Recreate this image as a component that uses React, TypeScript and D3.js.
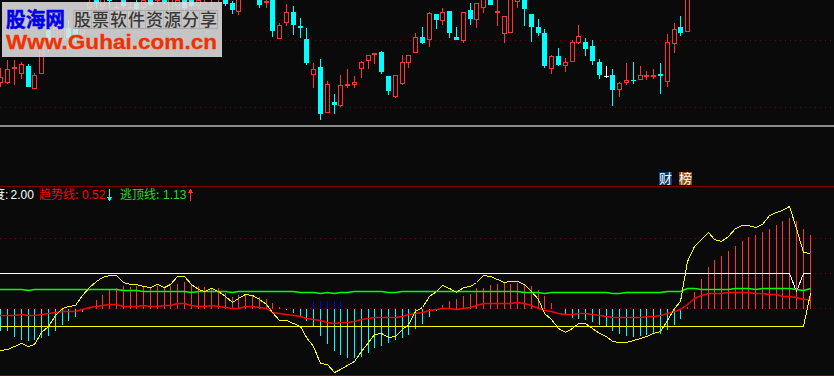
import React from "react";
import * as d3 from "d3";

const W = 834;
const H = 376;
const BG = "#0a0a0a";
const RED = "#ff3232";
const CYAN = "#00ffff";

// Candles (index units on a relative price scale)
const open = [117,117,131,126,134,111,126,170,158,160,172,172,166,192,204,194,206,182,204,180,197,192,204,199,205,188,194,200,204,194,200,201,202,202,197,188,220,205,203,197,202,161,177,188,174,161,125,133,87,98,94,114,115,131,139,145,148,124,103,116,137,147,163,160,186,179,189,163,159,190,180,192,205,187,166,167,198,205,186,173,167,131,144,134,138,157,158,154,138,124,125,110,117,120,120,123,124.5,126,118,156,173,168];
const close = [123,131,133,136,113,125,155,160,172,172,162,166,174,198,197,203,199,193,194,193,191,200,195,203,198,204,200,192,194,200,206,205,208,196,190,203,205,212,195,199,169,175,188,175,172,137,131,86,116,95,115,116,118,138,145,147,128,109,125,138,145,163,157,187,180,188,167,160,188,181,197,202,195,189,184,210,205,191,173,167,134,144,135,138,158,164,151,139,125,124,110,117,120,119,125,125,125,124,158,171,167,205];
const high = [132,140,140,138,136,127,160,180,176,178,180,176,178,202,206,206,208,198,206,198,202,203,206,205,206,206,204,203,205,202,208,206,209,204,199,205,222,215,205,202,204,177,196,194,182,172,137,141,119,106,125,131,124,139,145,147,149,124,125,145,145,167,173,188,186,192,189,173,188,197,197,204,207,202,184,212,207,207,186,181,171,145,152,142,160,175,162,160,141,134,131,118,137,138,134,129,131,137,166,177,184,207];
const low = [113,116,115,121,113,111,126,148,156,158,152,158,160,186,192,188,192,180,192,176,188,188,194,196,196,186,190,188,193,191,197,193,198,194,186,185,203,203,192,192,163,161,174,165,162,135,112,80,87,86,93,112,112,122,131,136,126,105,102,115,132,147,156,153,171,175,162,160,157,175,172,187,195,174,157,167,192,174,158,164,132,126,134,128,138,156,144,135,121,122,94,103,115,116,120,120,121,106,113,147,164,168];

// Lower panel series (oscillator, in panel units)
const histogram = [-22.7,-22,-28,-31,-32.7,-31,-29,-27,-22.7,-16.7,-12.7,-8.7,-3.7,1.3,8.3,13.3,18.3,21,22.3,21.3,22.3,22.3,21.7,23,21.3,22.3,24.3,26.3,25,23,21.7,21,20.3,16,11.7,13.3,14.3,13.3,11.7,9.3,5.7,1.3,-1.3,-4.7,-8,-12.3,-17.3,-27.3,-35.3,-42.3,-46.3,-49.3,-49.7,-48,-44.3,-39.3,-37,-34.3,-31.7,-29.3,-26.3,-20.7,-15.3,-8.3,-2.7,3.7,7.7,10,12.7,14.7,20.7,21,23.7,24.7,25.3,24.7,25.3,24,22.7,18.7,12.7,5.7,0,-5.7,-9.7,-10.7,-11.7,-13.7,-16,-18.7,-22.7,-25.7,-27.7,-28.7,-27.7,-26.7,-25.7,-25.3,-21.7,-16.7,-10.7,1.7,16.3,29.3,41.3,48.3,52.3,57.3,62.3,67.3,71.3,73.3,76.3,79.3,83.3,87.3,90.3,87.3,79.3,73.3];
const trendLine = [-7,-7,-7,-5.7,-7,-7,-6,-5,-3.7,-3,-2.7,-2.7,-1,1.3,2.3,3.3,4,4,2.3,1.7,1.7,2.7,1.7,2.3,2.7,3,4.7,4.7,3,1.7,1.7,2.7,2.3,1.3,-0.3,0.3,1.7,1.7,1.3,0,-4,-5,-6,-6.7,-8,-9.7,-11,-12.3,-13.7,-14.7,-13.7,-13.7,-12.7,-11.3,-10,-8.7,-8.7,-8.7,-8.7,-7.7,-6.3,-4.7,-3.7,-2,-1.3,0,0,-0.7,0,1.3,2.7,5.3,5.3,5.3,5.3,5.3,6.3,5.3,2.7,0,-2,-3,-5,-6,-6,-5,-5,-6,-7,-8,-9,-9,-9,-9,-9,-8,-8,-7,-5,-3,-1,4,10,13,15,15,15,16,16,16,16,15,15,14,14,12,12,11,9,9];
const escapeLine = [19,19,19,19,18,19,19,19,19,19,19,19,19,19,19,19,19,19,18,18,18,17,17,17,17,17,17,17,16,17,17,17,17,17,16,17,17,17,17,17,17,17,17,17,16,16,16,15,16,15,16,16,17,17,17,17,17,16,16,17,17,17,17,17,17,17,17,17,17,17,17,17,17,17,17,17,17,16,16,16,15,16,16,16,16,16,16,16,16,16,15,15,16,16,16,16,16,16,17,17,17,20,20,19,19,19,19,19,20,20,20,19,20,20,20,20,20,19,18,20];
const momentum = [-41.7,-40.7,-37.7,-35,-37.7,-35.7,-24.3,-18.3,-7.3,0.3,2.3,3.3,13.3,21,27.3,31,33,33,26.3,24.3,24.3,22.3,21.3,24,21,24,31.7,32,23.7,19,17.3,20,16.7,11.7,6.3,10.3,13.7,12.7,8.7,4.3,-4.3,-12,-11.7,-15.3,-17.7,-29.3,-38,-55.3,-56.3,-63.7,-60.7,-56.7,-53,-43,-33.7,-26,-25.3,-29.3,-28.3,-20.7,-16.3,-3,1,12,17,23.3,20.3,16,21.3,22.3,26.3,33.3,32.3,28.7,26,27,27.3,24.3,17,9.3,-4.7,-10.7,-20,-24,-20,-15,-15.3,-20,-25,-28,-33.3,-34,-34,-31.7,-30,-27.7,-25,-22.7,-11.7,0,7.3,46.7,61.7,69.3,75.7,69.3,66.7,71.7,80,83,83,81,84,93,96,98,102,80,56.3,54.7];
const blueIdx = [46, 47, 48, 49, 50];
const blueValue = 7.7;
const upperBand = histogram.map((_, i) => (i === 117 ? 17.3 : 35));
const lowerBand = histogram.map((_, i) => (i === 119 ? 15 : -18));

const priceGrid = [159.5, 92.5];
const oscGrid = [0, 35, 70];

const logoTitle = "股海网";
const logoCells = ["股", "票", "软", "件", "资", "源", "分", "享"];
const logoUrl = "Www.Guhai.com.cn";

const CJK = '"Noto Sans CJK SC", sans-serif';
const LATIN = '"Liberation Sans", Arial, sans-serif';

export default function App() {
  const xRaw = d3.scaleLinear().domain([0, 1]).range([0.9, 7.7]);
  const col = (i: number) => Math.floor(xRaw(i));
  const cx = (i: number) => col(i) + 0.5;
  const py = d3.scaleLinear().domain([0, 200]).range([200, 0]);
  const oy = d3.scaleLinear().domain([-18, 70]).range([326.5, 238.5]);
  const snapY = (d: number) => Math.floor(oy(d)) + 0.5;
  const line = (vals: number[]) =>
    d3.line<number>().x((_, i) => (i === 0 ? 0 : cx(i))).y((d) => snapY(d))(vals) as string;

  const cells = d3.range(logoCells.length);
  const cellX = d3.scaleLinear().domain([0, 8]).range([73, 217]);

  return (
    <svg
      width={W}
      height={H}
      viewBox={`0 0 ${W} ${H}`}
      style={{ position: "absolute", left: 0, top: 0, display: "block", background: BG }}
    >
      <rect x={0} y={0} width={W} height={H} fill={BG} />

      {/* upper grid */}
      {priceGrid.map((p) => (
        <line key={p} x1={0} x2={W} y1={py(p)} y2={py(p)} stroke="#7a0000" strokeDasharray="1 4" shapeRendering="crispEdges" />
      ))}

      {/* candles */}
      <g shapeRendering="crispEdges">
        {open.map((o, i) => {
          const c = close[i];
          const top = Math.round(py(Math.max(o, c)));
          const bot = Math.round(py(Math.min(o, c)));
          const hi = Math.round(py(high[i]));
          const lo = Math.round(py(low[i]));
          const x = col(i);
          if (o === c) {
            return (
              <g key={i} stroke="#ffffff">
                <line x1={x + 0.5} x2={x + 0.5} y1={hi} y2={lo} />
                <line x1={x - 2} x2={x + 3} y1={top + 0.5} y2={top + 0.5} />
              </g>
            );
          }
          if (c > o) {
            return (
              <g key={i} stroke={RED} fill="none">
                <line x1={x + 0.5} x2={x + 0.5} y1={hi} y2={top} />
                <line x1={x + 0.5} x2={x + 0.5} y1={bot} y2={lo} />
                <rect x={x - 1.5} y={top + 0.5} width={4} height={Math.max(bot - top - 1, 1)} fill={BG} />
              </g>
            );
          }
          return (
            <g key={i}>
              <line x1={x + 0.5} x2={x + 0.5} y1={hi} y2={lo} stroke={CYAN} />
              <rect x={x - 2} y={top} width={5} height={Math.max(bot - top, 1)} fill={CYAN} />
            </g>
          );
        })}
      </g>

      {/* watermark */}
      <rect x={2} y={2} width={220} height={55} fill="#dfdfdf" fillOpacity={0.88} />
      <text x={6} y={26.5} fontFamily={CJK} fontWeight={700} fontSize={20} fill="#0000e6" stroke="#0000e6" strokeWidth={0.5} textLength={59} lengthAdjust="spacingAndGlyphs">
        {logoTitle}
      </text>
      <g shapeRendering="crispEdges">
        <rect x={73.5} y={10.5} width={144} height={18} fill="none" stroke="#a8a8a8" />
        {cells.map((i) => (
          <line key={i} x1={cellX(i) + 0.5} x2={cellX(i) + 0.5} y1={10} y2={28} stroke="#b4b4b4" />
        ))}
      </g>
      {cells.map((i) => (
        <text key={i} x={cellX(i) + 9.5} y={25.5} textAnchor="middle" fontFamily={CJK} fontSize={17} fontWeight={500} fill="#383838">
          {logoCells[i]}
        </text>
      ))}
      <text x={6} y={49} fontFamily={LATIN} fontWeight={700} fontSize={21} fill="#ee3300" stroke="#ee3300" strokeWidth={0.3} textLength={211} lengthAdjust="spacingAndGlyphs">
        {logoUrl}
      </text>

      {/* panel separators */}
      <rect x={0} y={125} width={W} height={2} fill="#8c8c8c" />
      <rect x={0} y={186} width={W} height={1} fill="#800000" />
      <rect x={0} y={375} width={W} height={1} fill="#800000" />

      {/* badges */}
      <rect x={659} y={172} width={13} height={13} fill="#0a3a6a" />
      <text x={665.5} y={183} textAnchor="middle" fontFamily={CJK} fontSize={13} fill="#ffffff">财</text>
      <rect x={679} y={172} width={13} height={13} fill="#8b4a0f" />
      <text x={685.5} y={183} textAnchor="middle" fontFamily={CJK} fontSize={13} fill="#ffffff">榜</text>

      {/* legend */}
      <g fontSize={12}>
        <text x={-7} y={199} fontFamily={CJK} fill="#ffffff">度</text>
        <text x={5} y={199} fontFamily={LATIN} fill="#ffffff">:</text>
        <text x={10.5} y={199} fontFamily={LATIN} fill="#ffffff">2.00</text>
        <text x={39} y={199} fontFamily={CJK} fill="#ff0000">趋势线:</text>
        <text x={82} y={199} fontFamily={LATIN} fill="#ff0000">0.52</text>
        <text x={120} y={199} fontFamily={CJK} fill="#22dd22">逃顶线:</text>
        <text x={163} y={199} fontFamily={LATIN} fill="#22dd22">1.13</text>
      </g>
      <g shapeRendering="crispEdges">
        <line x1={109.5} x2={109.5} y1={189} y2={199} stroke={CYAN} />
        <path d="M107 197 H112 L109.5 201.5 Z" fill={CYAN} />
        <line x1={190.5} x2={190.5} y1={191} y2={201} stroke={RED} />
        <path d="M188 193 H193 L190.5 188.5 Z" fill={RED} />
      </g>

      {/* lower grid */}
      {oscGrid.map((v) => (
        <line key={v} x1={0} x2={W} y1={oy(v)} y2={oy(v)} stroke="#7a0000" strokeDasharray="1 4" shapeRendering="crispEdges" />
      ))}

      {/* histogram */}
      <g shapeRendering="crispEdges">
        {histogram.map((v, i) =>
          v === 0 ? null : (
            <line key={i} x1={cx(i)} x2={cx(i)} y1={oy(0)} y2={oy(v)} stroke={v > 0 ? RED : CYAN} />
          )
        )}
        {blueIdx.map((i) => (
          <line key={i} x1={cx(i)} x2={cx(i)} y1={oy(0)} y2={oy(blueValue)} stroke="#0000ff" />
        ))}
      </g>

      {/* lines */}
      <g fill="none" strokeLinejoin="round">
        <path d={line(upperBand)} stroke="#ffffff" strokeWidth={1} shapeRendering="crispEdges" />
        <path d={line(escapeLine)} stroke="#00ff00" strokeWidth={1.4} />
        <path d={line(trendLine)} stroke="#ff0000" strokeWidth={1.4} />
        <path d={line(lowerBand)} stroke="#ffff00" strokeWidth={1} shapeRendering="crispEdges" />
        <path d={line(momentum)} stroke="#ffff00" strokeWidth={1} shapeRendering="crispEdges" />
      </g>
    </svg>
  );
}
